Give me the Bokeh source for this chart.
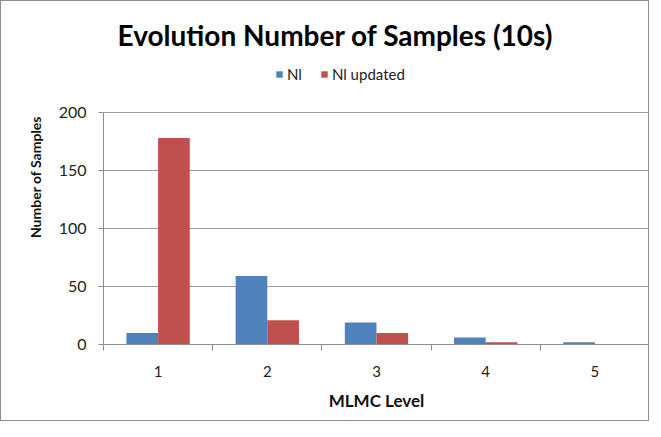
from bokeh.plotting import figure
from bokeh.models import (ColumnDataSource, Range1d, FixedTicker, Legend, LegendItem,
                          Label)
from bokeh.transform import dodge
from bokeh.embed import file_html
from bokeh.resources import INLINE

# ---- data ----
levels = [1, 2, 3, 4, 5]
nl = [10, 59, 19, 6, 2]
nl_updated = [178, 21, 10, 2, 0.5]
y_ticks = [0, 50, 100, 150, 200]
title_text = "Evolution Number of Samples (10s)"
series_names = ["Nl", "Nl updated"]

BLUE = "#4F81BD"
RED = "#C0504D"
FONT = "Lato"
GRAY = "#8C8C8C"

src = ColumnDataSource(dict(level=levels, nl=nl, nlu=nl_updated))

p = figure(width=649, height=421, output_backend="svg", toolbar_location=None,
           x_range=Range1d(0.5, 5.5), y_range=Range1d(0, 288.8),
           min_border_left=102, min_border_right=1, min_border_top=8,
           min_border_bottom=78)
p.outline_line_color = None
p.background_fill_color = "white"
p.border_fill_color = "white"
p.styles = {"border": "1px solid #8C8C8C"}

bw = 0.29
r1 = p.vbar(x=dodge("level", -bw / 2, range=p.x_range), top="nl", width=bw,
            source=src, fill_color=BLUE, line_color=None)
r2 = p.vbar(x=dodge("level", bw / 2, range=p.x_range), top="nlu", width=bw,
            source=src, fill_color=RED, line_color=None)

# x axis
xa = p.xaxis[0]
xa.ticker = FixedTicker(ticks=levels, minor_ticks=[l - 0.5 for l in levels] + [levels[-1] + 0.5])
xa.major_tick_line_color = None
xa.major_tick_out = 0
xa.major_tick_in = 0
xa.minor_tick_line_color = GRAY
xa.minor_tick_out = 6
xa.minor_tick_in = 0
xa.axis_line_color = GRAY
xa.major_label_standoff = 15
xa.major_label_text_font = FONT
xa.major_label_text_font_size = "15px"
xa.major_label_text_color = "#222222"
xa.axis_label = "MLMC Level"
xa.axis_label_text_font = FONT
xa.axis_label_text_font_style = "bold"
xa.axis_label_text_font_size = "17px"
xa.axis_label_text_color = "#111111"
xa.axis_label_standoff = 10

# y axis
ya = p.yaxis[0]
ya.ticker = FixedTicker(ticks=y_ticks)
ya.bounds = (0, 200)
ya.minor_tick_line_color = None
ya.major_tick_line_color = GRAY
ya.major_tick_out = 5
ya.major_tick_in = 0
ya.axis_line_color = GRAY
ya.major_label_standoff = 12
ya.major_label_text_font = FONT
ya.major_label_text_font_size = "16px"
ya.major_label_text_color = "#222222"
ya.axis_label = "Number of Samples"
ya.axis_label_text_font = FONT
ya.axis_label_text_font_style = "bold"
ya.axis_label_text_font_size = "14px"
ya.axis_label_text_color = "#111111"
ya.axis_label_standoff = 12

p.xgrid.grid_line_color = None
p.ygrid.grid_line_color = "#9A9A9A"
p.ygrid.ticker = FixedTicker(ticks=y_ticks)

# title
p.add_layout(Label(x=2.625, y=266.4, text=title_text, text_font=FONT,
                   text_font_style="bold", text_font_size="28px",
                   text_align="center", text_baseline="middle",
                   text_color="#000000"))

legend = Legend(items=[LegendItem(label=series_names[0], renderers=[r1]),
                       LegendItem(label=series_names[1], renderers=[r2])],
                orientation="horizontal", location=(172, 261),
                glyph_width=8, glyph_height=8, label_height=16, label_width=0,
                label_standoff=4, spacing=18, padding=0, margin=0,
                label_text_font=FONT, label_text_font_size="15px",
                label_text_color="#222222",
                border_line_alpha=0, background_fill_alpha=0)
p.add_layout(legend)

open("out.html", "w").write(file_html(p, INLINE))
